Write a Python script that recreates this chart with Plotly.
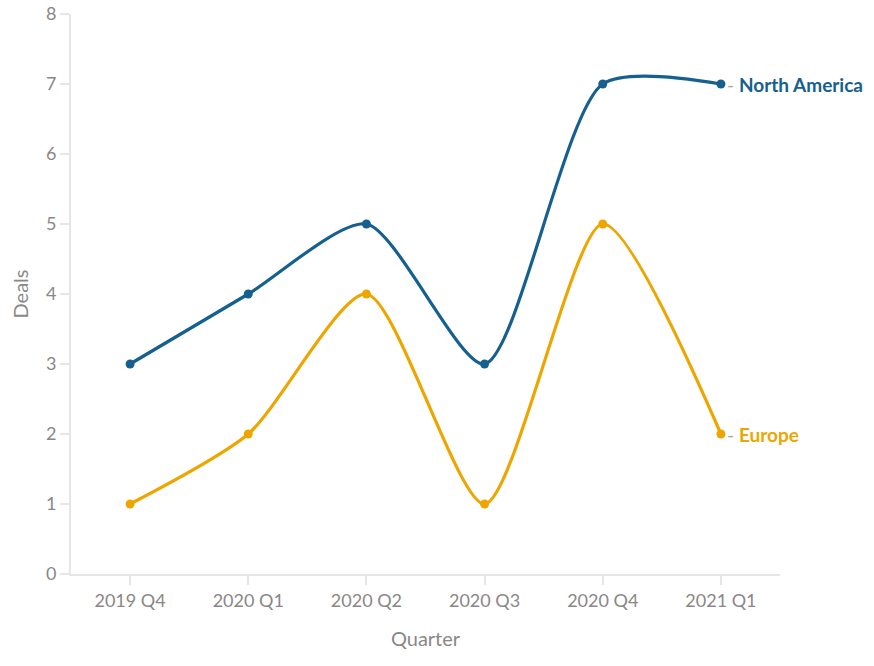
import plotly.graph_objects as go

quarters = ["2019 Q4", "2020 Q1", "2020 Q2", "2020 Q3", "2020 Q4", "2021 Q1"]
north_america = [3, 4, 5, 3, 7, 7]
europe = [1, 2, 4, 1, 5, 2]

series = [
    ("North America", north_america, "#15608f"),
    ("Europe", europe, "#eda600"),
]

FONT = "Source Sans Pro, Lato, Noto Sans, sans-serif"
GRAY = "#8a8786"

fig = go.Figure()
for name, vals, color in series:
    fig.add_trace(go.Scatter(
        x=quarters, y=vals, name=name, mode="lines+markers",
        line=dict(color=color, width=3.2, shape="spline", smoothing=0.7),
        marker=dict(color=color, size=9),
        cliponaxis=False,
    ))
    fig.add_annotation(
        x=quarters[-1], y=vals[-1], xref="x", yref="y",
        text=f"<span style='color:#aaaaaa;font-weight:normal'>-</span> <b>{name}</b>",
        showarrow=False, xanchor="left", xshift=4,
        font=dict(family=FONT, size=19, color=color),
    )

fig.update_layout(
    width=874, height=666,
    margin=dict(l=71, r=94, t=14, b=92),
    plot_bgcolor="white", paper_bgcolor="white",
    showlegend=False,
    font=dict(family=FONT, size=18, color=GRAY),
)
fig.update_xaxes(
    type="category", range=[-0.5, 5.5], automargin=False,
    showline=True, linecolor="#e6e6e6", linewidth=2,
    ticks="outside", tickcolor="#e6e6e6", ticklen=9, tickwidth=2,
    showgrid=False, zeroline=False,
    title=dict(text="Quarter", font=dict(size=20, color=GRAY), standoff=22),
    tickfont=dict(size=18, color=GRAY),
)
fig.update_yaxes(
    range=[0, 8], dtick=1, automargin=False,
    showline=True, linecolor="#e6e6e6", linewidth=2,
    ticks="outside", tickcolor="#e6e6e6", ticklen=9, tickwidth=2,
    showgrid=False, zeroline=False,
    title=dict(text="Deals", font=dict(size=20, color=GRAY), standoff=12),
    tickfont=dict(size=18, color=GRAY),
)

fig.write_html(
    "out.html",
    config={"displayModeBar": False},
    post_script="document.body.style.margin='0';document.body.style.overflow='hidden';",
)
